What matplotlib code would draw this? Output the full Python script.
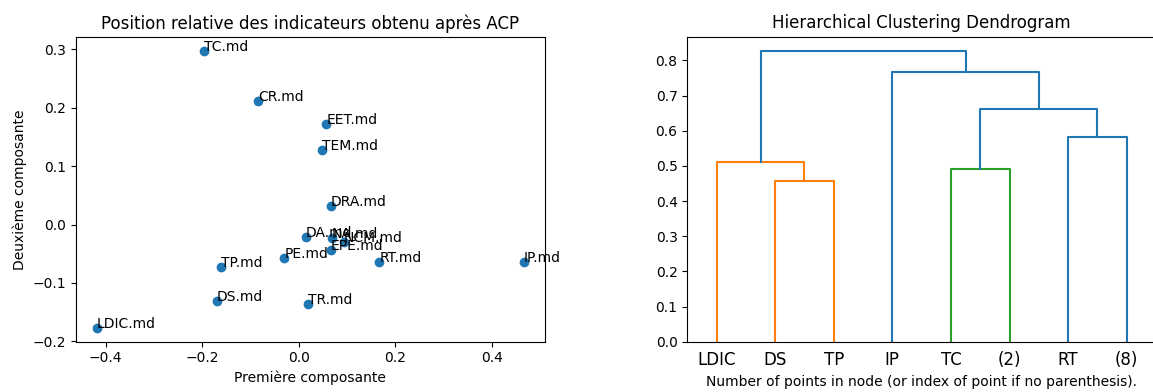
import matplotlib
matplotlib.use('Agg')
import matplotlib.pyplot as plt
import numpy as np

### Coordinates of the indicators on the first two principal components
indicateurs = ['TC.md','CR.md','EET.md','TEM.md','DRA.md','DA.md','NA.md','NCM.md',
               'EPE.md','PE.md','RT.md','IP.md','TP.md','DS.md','TR.md','LDIC.md']
comp1 = [-0.197,-0.085,0.057,0.049,0.066,0.014,0.069,0.093,
         0.066,-0.030,0.167,0.466,-0.162,-0.170,0.020,-0.418]
comp2 = [0.297,0.211,0.172,0.127,0.031,-0.022,-0.023,-0.030,
         -0.044,-0.057,-0.064,-0.064,-0.073,-0.131,-0.136,-0.177]

### Truncated dendrogram: leaves and merges (left, right, height)
leaves = ['LDIC','DS','TP','IP','TC','(2)','RT','(8)']
merges = [('DS','TP',0.458),
          ('LDIC','m0',0.511),
          ('TC','(2)',0.492),
          ('RT','(8)',0.582),
          ('m2','m3',0.662),
          ('IP','m4',0.767),
          ('m1','m5',0.826)]
seuil = 0.7*max(h for _,_,h in merges)

###############################################################################
fig = plt.figure(figsize=(11.53,3.92),dpi=100)

### PCA scatter
ax1 = fig.add_axes([0.0657,0.1283,0.4070,0.7765])
ax1.scatter(comp1,comp2)
for i in range(len(indicateurs)):
    ax1.annotate(indicateurs[i],(comp1[i],comp2[i]))
ax1.set_title('Position relative des indicateurs obtenu après ACP')
ax1.set_xlabel('Première composante')
ax1.set_ylabel('Deuxième composante')

### Dendrogram
ax2 = fig.add_axes([0.5961,0.1283,0.4065,0.7781])
pos = {name:5+10*k for k,name in enumerate(leaves)}
haut = {name:0. for name in leaves}
clus = {}
palette = ['C1','C2','C3','C4']
ncol = 0
for k,(a,b,h) in enumerate(merges):
    key = 'm%d' % k
    if h >= seuil:
        col = 'C0'
    else:
        col = clus.get(a) or clus.get(b)
        if col is None:
            col = palette[ncol]
            ncol += 1
    clus[key] = col if h < seuil else None
    ax2.plot([pos[a],pos[a],pos[b],pos[b]],[haut[a],h,h,haut[b]],color=col)
    pos[key] = (pos[a]+pos[b])/2.
    haut[key] = h

ax2.set_xlim(0,10*len(leaves))
ax2.set_ylim(0,1.05*max(h for _,_,h in merges))
ax2.set_xticks([5+10*k for k in range(len(leaves))])
ax2.set_xticklabels(leaves,size=12)
for line in ax2.get_xticklines():
    line.set_visible(False)
ax2.set_title('Hierarchical Clustering Dendrogram')
ax2.set_xlabel('Number of points in node (or index of point if no parenthesis).')

plt.savefig('out.png',dpi=100)
